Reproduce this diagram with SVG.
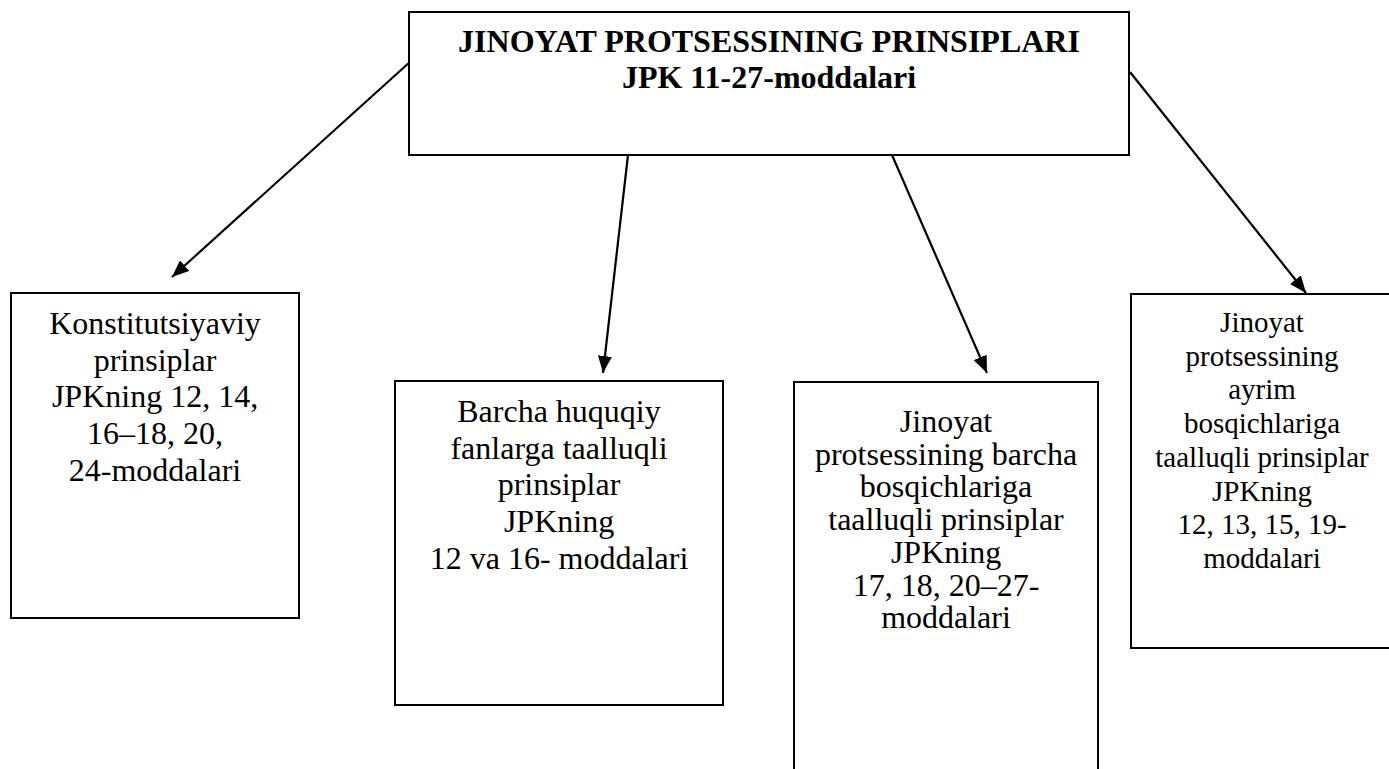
<svg xmlns="http://www.w3.org/2000/svg" width="1389" height="769" viewBox="0 0 1389 769">
<style>
.box{fill:#fff;stroke:#000;stroke-width:2}
.t{font-family:"Liberation Serif","Times New Roman",serif;font-size:32px;fill:#000;text-anchor:middle}
.s{font-size:29px}
.b{font-weight:bold}
.c{stroke:#000;stroke-width:2.2;fill:none;marker-end:url(#ah)}
</style>
<defs>
<marker id="ah" markerUnits="userSpaceOnUse" markerWidth="18" markerHeight="14" refX="17" refY="7" orient="auto">
<path d="M0,0 L17,7 L0,14 z" fill="#000"/>
</marker>
</defs>
<rect width="1389" height="769" fill="#fff"/>
<g id="connectors">
<line class="c" x1="411" y1="61" x2="172" y2="277"/>
<line class="c" x1="628" y1="155" x2="603" y2="373"/>
<line class="c" x1="892" y1="155" x2="987" y2="373"/>
<line class="c" x1="1130" y1="72" x2="1306" y2="293"/>
</g>
<g id="root">
<rect class="box" x="409" y="12" width="720" height="143"/>
<text class="t b" x="769" y="52">JINOYAT PROTSESSINING PRINSIPLARI</text>
<text class="t b" x="769" y="88">JPK 11-27-moddalari</text>
</g>
<g id="n1">
<rect class="box" x="11" y="293" width="288" height="325"/>
<text class="t" x="155" y="334">Konstitutsiyaviy</text>
<text class="t" x="155" y="370.7">prinsiplar</text>
<text class="t" x="155" y="407.4">JPKning 12, 14,</text>
<text class="t" x="155" y="444">16–18, 20,</text>
<text class="t" x="155" y="480.8">24-moddalari</text>
</g>
<g id="n2">
<rect class="box" x="395" y="381" width="328" height="324"/>
<text class="t" x="559" y="422">Barcha huquqiy</text>
<text class="t" x="559" y="458.7">fanlarga taalluqli</text>
<text class="t" x="559" y="495.4">prinsiplar</text>
<text class="t" x="559" y="532">JPKning</text>
<text class="t" x="559" y="568.8">12 va 16- moddalari</text>
</g>
<g id="n3">
<rect class="box" x="794" y="382" width="304" height="400"/>
<text class="t" x="946" y="432">Jinoyat</text>
<text class="t" x="946" y="464.7">protsessining barcha</text>
<text class="t" x="946" y="497.4">bosqichlariga</text>
<text class="t" x="946" y="530">taalluqli prinsiplar</text>
<text class="t" x="946" y="562.8">JPKning</text>
<text class="t" x="946" y="595.5">17, 18, 20–27-</text>
<text class="t" x="946" y="628">moddalari</text>
</g>
<g id="n4">
<rect class="box" x="1131" y="294" width="280" height="354"/>
<text class="t s" x="1262" y="332">Jinoyat</text>
<text class="t s" x="1262" y="365.7">protsessining</text>
<text class="t s" x="1262" y="399.4">ayrim</text>
<text class="t s" x="1262" y="433">bosqichlariga</text>
<text class="t s" x="1262" y="466.8">taalluqli prinsiplar</text>
<text class="t s" x="1262" y="500.5">JPKning</text>
<text class="t s" x="1262" y="534.2">12, 13, 15, 19-</text>
<text class="t s" x="1262" y="568">moddalari</text>
</g>
</svg>
